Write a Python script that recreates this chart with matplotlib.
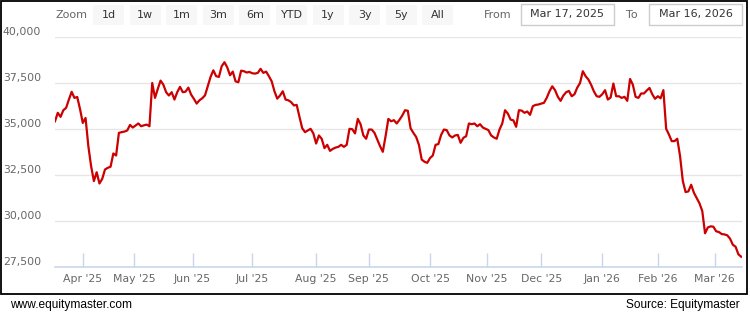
import numpy as np
import pandas as pd
import matplotlib
matplotlib.use("Agg")
import matplotlib.pyplot as plt
from matplotlib.patches import Rectangle, FancyBboxPatch

# trading calendar (NSE) Mar 17, 2025 - Mar 16, 2026
holidays = ["2025-03-31", "2025-04-10", "2025-04-14", "2025-04-18", "2025-05-01",
            "2025-08-15", "2025-08-27", "2025-10-02", "2025-10-22", "2025-11-05",
            "2025-12-25", "2026-01-15", "2026-01-26", "2026-03-03"]
special_sessions = ["2026-02-01"]

values = [
    35420, 35880, 35660, 36020, 36150, 36600, 37020, 36690, 36740, 36090,
    35330, 35600, 34070, 32980, 32170, 32650, 32040, 32290, 32800, 32890,
    32950, 33670, 33560, 34790, 34830, 34860, 34920, 35220, 35080, 35190,
    35300, 35150, 35200, 35240, 35150, 37500, 36690, 37180, 37630, 37410,
    37000, 36820, 37000, 36600, 37000, 37290, 37000, 37030, 37250, 36870,
    36640, 36380, 36560, 36670, 36830, 37320, 37830, 38190, 37870, 37830,
    38410, 38630, 38350, 37920, 38120, 37590, 37540, 38170, 38140, 38070,
    38100, 38030, 38010, 38050, 38270, 38050, 38120, 37870, 37590, 37050,
    36650, 36820, 37050, 36600, 36560, 36460, 36280, 36310, 35660, 35040,
    34830, 34920, 35010, 34760, 34210, 34650, 34470, 33960, 34140, 33810,
    33920, 33990, 34030, 34140, 34030, 34140, 35010, 34990, 34760, 35550,
    35260, 34650, 34470, 34970, 34970, 34790, 34430, 34070, 33760, 34610,
    35550, 35420, 35480, 35300, 35500, 35730, 36020, 35990, 35040, 34790,
    34570, 34140, 33340, 33220, 33160, 33420, 33560, 34140, 34180, 34680,
    34970, 34940, 34650, 34540, 34650, 34680, 34250, 34520, 34610, 35300,
    35260, 35300, 35150, 35260, 35080, 35010, 34940, 34650, 34540, 34470,
    34970, 35300, 36020, 35840, 35510, 35470, 35120, 36020, 36000, 35880,
    35950, 35770, 36240, 36310, 36330, 36380, 36420, 36690, 37050, 37320,
    37110, 36750, 36530, 36820, 37000, 37070, 36780, 36890, 37250, 37500,
    38140, 37870, 37690, 37400, 37040, 36780, 36750, 36890, 37110, 36600,
    36710, 37470, 36780, 36780, 36690, 36750, 36530, 37720, 37410, 36750,
    36690, 36930, 36930, 37090, 37230, 36890, 36640, 36780, 36670, 37110,
    35010, 34700, 34340, 34340, 34470, 33530, 32170, 31570, 31610, 31970,
    31530, 31250, 30960, 30540, 29330, 29650, 29710, 29690, 29440, 29400,
    29290, 29270, 29220, 29040, 28710, 28600, 28190, 28060,
]

y_ticks = [27500, 30000, 32500, 35000, 37500, 40000]
buttons = ["1d", "1w", "1m", "3m", "6m", "YTD", "1y", "3y", "5y", "All"]
date_from = "Mar 17, 2025"
date_to = "Mar 16, 2026"

days = pd.bdate_range("2025-03-17", "2026-03-16")
days = days.drop(pd.to_datetime(holidays))
days = days.union(pd.to_datetime(special_sessions))
x = np.arange(len(values))

# month ticks on the ordinal axis
months = pd.date_range("2025-04-01", "2026-03-01", freq="MS")
tick_pos = []
for m in months:
    p = days.searchsorted(m)
    if m not in days:
        p -= 0.5
    tick_pos.append(p)
tick_lab = [m.strftime("%b '%y") for m in months]

fig = plt.figure(figsize=(7.5, 3.15), dpi=100)
ax = fig.add_axes([55 / 750, 1 - 267 / 315, 687 / 750, 230 / 315])

ax.plot(x, values, color="#cc0000", lw=1.6, solid_joinstyle="round")
ax.set_xlim(0, len(values) - 1 + 0.3)
ax.set_ylim(27500, 40000)

ax.set_yticks(y_ticks)
ax.set_yticklabels([f"{v:,}" for v in y_ticks], color="#666666", fontsize=7.8)
for lab in ax.get_yticklabels():
    lab.set_verticalalignment("bottom")
ax.tick_params(axis="y", length=0, pad=10)
ax.grid(axis="y", color="#e6e6e6", lw=1)

ax.set_xticks(tick_pos)
ax.set_xticklabels(tick_lab, color="#666666", fontsize=7.8)
ax.tick_params(axis="x", direction="in", length=10, color="#ccd6eb", width=1, pad=5)

for s in ["top", "right", "left"]:
    ax.spines[s].set_visible(False)
ax.spines["bottom"].set_color("#ccd6eb")
ax.spines["bottom"].set_linewidth(1.2)
ax.set_axisbelow(True)

# range selector bar
fig.text(55 / 750, 1 - 15 / 315, "Zoom", color="#666666", fontsize=8, va="center")
for i, b in enumerate(buttons):
    bx = 93 + i * 36.6
    fig.patches.append(FancyBboxPatch((bx / 750, 1 - 25 / 315), 31 / 750, 20 / 315,
                                      boxstyle="square,pad=0", fc="#f7f7f7", ec="none",
                                      transform=fig.transFigure))
    fig.text((bx + 15.5) / 750, 1 - 14.5 / 315, b, color="#333333", fontsize=8,
             ha="center", va="center")

fig.text(484 / 750, 1 - 15 / 315, "From", color="#666666", fontsize=8, va="center")
fig.text(626 / 750, 1 - 15 / 315, "To", color="#666666", fontsize=8, va="center")
for bx, txt in [(521, date_from), (649, date_to)]:
    fig.patches.append(Rectangle((bx / 750, 1 - 25 / 315), 93 / 750, 21 / 315,
                                 fc="white", ec="#cccccc", lw=1, transform=fig.transFigure))
    fig.text((bx + 46.5) / 750, 1 - 14.5 / 315, txt, color="#333333", fontsize=8,
             ha="center", va="center")

# outer frame
fig.patches.append(Rectangle((0.5 / 750, 1 - 294 / 315), 746 / 750, 293.5 / 315,
                             fc="none", ec="black", lw=1.3, transform=fig.transFigure))

fig.text(10 / 750, 1 - 305 / 315, "www.equitymaster.com", family="Liberation Sans",
         fontsize=8.6, va="center", color="black")
fig.text(740 / 750, 1 - 305 / 315, "Source: Equitymaster", family="Liberation Sans",
         fontsize=8.6, va="center", ha="right", color="black")

fig.savefig("out.png", dpi=100)
